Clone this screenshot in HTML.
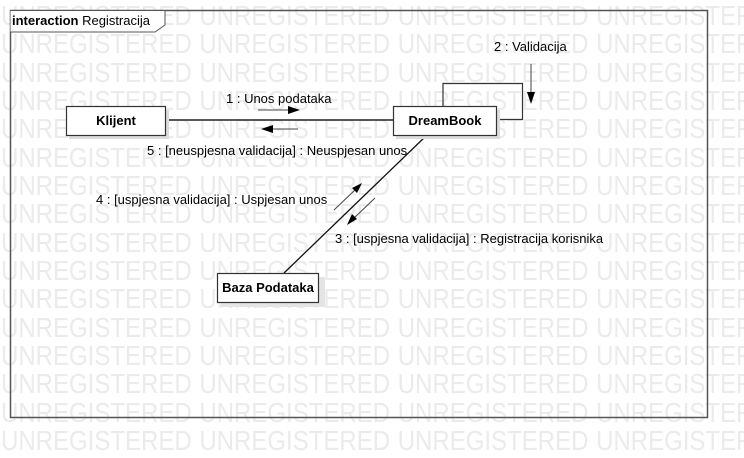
<!DOCTYPE html>
<html><head><meta charset="utf-8"><style>
html,body{margin:0;padding:0;background:#fff;width:744px;height:458px;overflow:hidden;}
body{position:relative;font-family:"Liberation Sans",sans-serif;}
.wm{position:absolute;left:1px;width:743px;overflow:hidden;font-size:24px;color:#ebebeb;white-space:nowrap;line-height:28px;word-spacing:1px;transform:scaleY(1.15);transform-origin:left center;}
svg{position:absolute;left:0;top:0;}
</style></head><body>
<div class="wm" style="top:3px">UNREGISTERED UNREGISTERED UNREGISTERED UNREGISTERED</div>
<div class="wm" style="top:31px">UNREGISTERED UNREGISTERED UNREGISTERED UNREGISTERED</div>
<div class="wm" style="top:60px">UNREGISTERED UNREGISTERED UNREGISTERED UNREGISTERED</div>
<div class="wm" style="top:88px">UNREGISTERED UNREGISTERED UNREGISTERED UNREGISTERED</div>
<div class="wm" style="top:116px">UNREGISTERED UNREGISTERED UNREGISTERED UNREGISTERED</div>
<div class="wm" style="top:145px">UNREGISTERED UNREGISTERED UNREGISTERED UNREGISTERED</div>
<div class="wm" style="top:173px">UNREGISTERED UNREGISTERED UNREGISTERED UNREGISTERED</div>
<div class="wm" style="top:201px">UNREGISTERED UNREGISTERED UNREGISTERED UNREGISTERED</div>
<div class="wm" style="top:230px">UNREGISTERED UNREGISTERED UNREGISTERED UNREGISTERED</div>
<div class="wm" style="top:258px">UNREGISTERED UNREGISTERED UNREGISTERED UNREGISTERED</div>
<div class="wm" style="top:286px">UNREGISTERED UNREGISTERED UNREGISTERED UNREGISTERED</div>
<div class="wm" style="top:315px">UNREGISTERED UNREGISTERED UNREGISTERED UNREGISTERED</div>
<div class="wm" style="top:343px">UNREGISTERED UNREGISTERED UNREGISTERED UNREGISTERED</div>
<div class="wm" style="top:371px">UNREGISTERED UNREGISTERED UNREGISTERED UNREGISTERED</div>
<div class="wm" style="top:400px">UNREGISTERED UNREGISTERED UNREGISTERED UNREGISTERED</div>
<div class="wm" style="top:428px">UNREGISTERED UNREGISTERED UNREGISTERED UNREGISTERED</div>
<svg width="744" height="458" viewBox="0 0 744 458" font-family="Liberation Sans, sans-serif" font-size="13">
<rect x="10.5" y="10.5" width="697" height="407" fill="none" stroke="#555" stroke-width="1.5"/>
<path d="M10.5 10.5 H165 V25 L155 32 H10.5" fill="#fff" stroke="#555"/>
<text x="12" y="25"><tspan font-weight="bold">interaction</tspan> Registracija</text>
<line x1="165" y1="120" x2="393" y2="120" stroke="#222" stroke-width="1.5"/>
<polyline points="443,106 443,83.5 522.5,83.5 522.5,119.5 497,119.5" fill="none" stroke="#333" stroke-width="1.2"/>
<line x1="427" y1="135" x2="284" y2="273" stroke="#111" stroke-width="1.3"/>
<line x1="258" y1="110" x2="290" y2="110" stroke="#444" stroke-width="1"/><polygon points="300,110 288,106 288,114" fill="#000"/>
<line x1="271" y1="129" x2="298" y2="129" stroke="#444" stroke-width="1"/><polygon points="261,129 273,125 273,133" fill="#000"/>
<line x1="531" y1="64" x2="531" y2="94" stroke="#444" stroke-width="1"/><polygon points="531,104 527,92 535,92" fill="#000"/>
<line x1="334" y1="210" x2="356" y2="189" stroke="#444" stroke-width="1"/><polygon points="362,183 352,188 357,193" fill="#000"/>
<line x1="375" y1="198" x2="353" y2="219" stroke="#444" stroke-width="1"/><polygon points="347,225 352,214 357,219" fill="#000"/>
<rect x="69" y="110" width="100" height="29" fill="#ddd"/>
<rect x="66.5" y="106.5" width="99" height="29" fill="#fff" stroke="#333" stroke-width="1.2"/>
<text x="116" y="125" text-anchor="middle" font-weight="bold">Klijent</text>
<rect x="396" y="110" width="104" height="29" fill="#ddd"/>
<rect x="393.5" y="106.5" width="103" height="29" fill="#fff" stroke="#333" stroke-width="1.2"/>
<text x="445" y="125" text-anchor="middle" font-weight="bold">DreamBook</text>
<rect x="221" y="277" width="104" height="30" fill="#e4e4e4"/>
<rect x="217.5" y="273.5" width="101" height="29" fill="#fff" stroke="#333" stroke-width="1.2"/>
<text x="268" y="292" text-anchor="middle" font-weight="bold">Baza Podataka</text>
<text x="226" y="103">1 : Unos podataka</text>
<text x="147" y="155">5 : [neuspjesna validacija] : Neuspjesan unos</text>
<text x="494" y="51">2 : Validacija</text>
<text x="96" y="204">4 : [uspjesna validacija] : Uspjesan unos</text>
<text x="335" y="243">3 : [uspjesna validacija] : Registracija korisnika</text>
</svg>
</body></html>
